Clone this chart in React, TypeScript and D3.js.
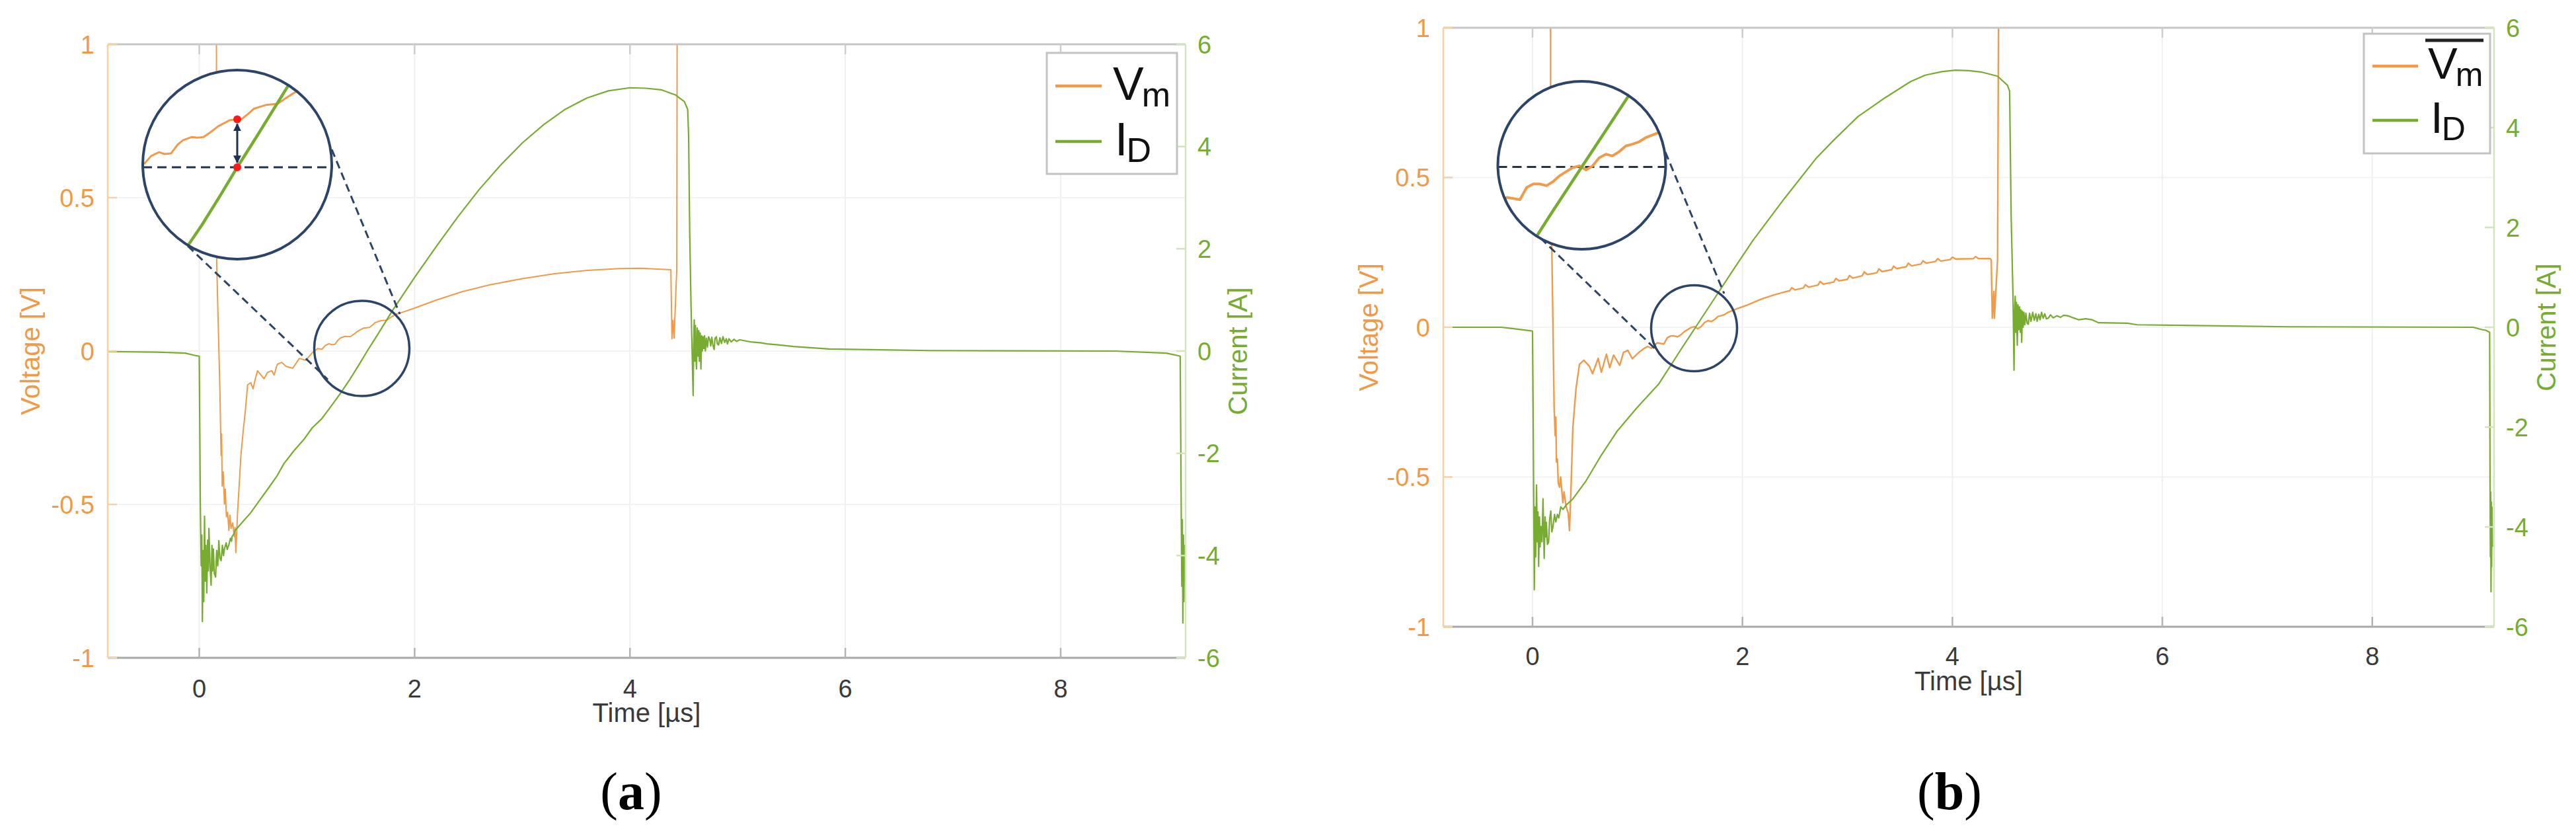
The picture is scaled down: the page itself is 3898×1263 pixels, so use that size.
import React from 'react';
import * as d3 from 'd3';

const W = 3898;
const H = 1263;

// ---------- axes / ticks ----------
const TIME_DOMAIN: [number, number] = [-0.85, 9.16];
const VOLT_DOMAIN: [number, number] = [-1, 1];
const CURR_DOMAIN: [number, number] = [-6, 6];
const TIME_TICKS = [0, 2, 4, 6, 8];
const VOLT_TICKS = [-1, -0.5, 0, 0.5, 1];
const CURR_TICKS = [-6, -4, -2, 0, 2, 4, 6];

// ---------- panel (a) data: [time µs, value] ----------
const vmA: [number, number][] = [
  [-0.85, 1.5], [0.158, 1.5], [0.162, 0.29], [0.172, 0.148], [0.192, -0.129], [0.203, -0.34],
  [0.208, -0.27], [0.213, -0.44], [0.223, -0.394], [0.234, -0.499], [0.242, -0.45], [0.252, -0.54],
  [0.264, -0.526], [0.275, -0.585], [0.285, -0.535], [0.295, -0.578], [0.31, -0.56], [0.326, -0.605],
  [0.332, -0.575], [0.34, -0.657], [0.356, -0.526], [0.387, -0.34], [0.408, -0.261], [0.428, -0.196],
  [0.449, -0.11], [0.479, -0.103], [0.5, -0.123], [0.521, -0.09], [0.541, -0.064], [0.572, -0.078],
  [0.602, -0.09], [0.633, -0.07], [0.674, -0.064], [0.695, -0.078], [0.725, -0.043], [0.766, -0.037],
  [0.807, -0.05], [0.868, -0.056], [0.93, -0.024], [0.991, -0.03], [1.053, -0.004], [1.1, 0.008],
  [1.14, 0.006], [1.17, 0.018], [1.206, 0.024], [1.23, 0.021], [1.26, 0.022], [1.29, 0.036],
  [1.314, 0.043], [1.353, 0.048], [1.38, 0.047], [1.407, 0.048], [1.44, 0.056], [1.473, 0.065],
  [1.527, 0.075], [1.581, 0.077], [1.61, 0.085], [1.635, 0.093], [1.689, 0.099], [1.743, 0.101],
  [1.78, 0.11], [1.821, 0.119], [1.9, 0.128], [2.0, 0.14], [2.2, 0.166], [2.446, 0.194],
  [2.7, 0.216], [3.0, 0.236], [3.3, 0.252], [3.6, 0.263], [3.9, 0.269], [4.1, 0.27],
  [4.38, 0.265], [4.39, 0.04], [4.4, 0.1], [4.41, 0.042], [4.435, 0.27], [4.44, 1.5], [9.2, 1.5],
];

const idA: [number, number][] = [
  [-0.85, -0.01], [-0.4, -0.02], [-0.13, -0.04], [-0.03, -0.09], [0.0, -0.1], [0.004, -1.2],
  [0.01, -3.0], [0.018, -4.2], [0.024, -3.6], [0.029, -5.29], [0.036, -3.9], [0.042, -4.9],
  [0.049, -3.23], [0.056, -4.5], [0.062, -3.8], [0.07, -4.73], [0.078, -3.7], [0.084, -4.3],
  [0.09, -3.47], [0.1, -4.2], [0.11, -4.58], [0.118, -3.8], [0.124, -4.3], [0.131, -3.87],
  [0.14, -4.35], [0.152, -4.42], [0.162, -3.9], [0.172, -4.2], [0.182, -3.71], [0.192, -4.05],
  [0.203, -4.1], [0.215, -3.8], [0.225, -4.0], [0.234, -3.87], [0.25, -3.75], [0.26, -3.88],
  [0.275, -3.79], [0.29, -3.66], [0.3, -3.72], [0.305, -3.63], [0.32, -3.58], [0.336, -3.5],
  [0.4, -3.35], [0.479, -3.16], [0.56, -2.92], [0.643, -2.68], [0.72, -2.45], [0.787, -2.2],
  [0.88, -1.95], [0.971, -1.73], [1.05, -1.5], [1.135, -1.33], [1.217, -1.1], [1.3, -0.86],
  [1.4, -0.55], [1.48, -0.28], [1.56, 0], [1.65, 0.3], [1.8, 0.81], [2.0, 1.44],
  [2.2, 2.04], [2.4, 2.62], [2.6, 3.16], [2.8, 3.64], [3.0, 4.07], [3.2, 4.43],
  [3.4, 4.73], [3.6, 4.95], [3.8, 5.09], [4.0, 5.15], [4.15, 5.14], [4.29, 5.11],
  [4.423, 5.01], [4.505, 4.88], [4.536, 4.73], [4.545, 4.2], [4.555, 2.31], [4.567, 0.92],
  [4.587, -0.87], [4.592, 0.2], [4.597, 0.61], [4.603, -0.2], [4.608, 0.5], [4.613, -0.1],
  [4.618, -0.35], [4.625, 0.45], [4.632, -0.1], [4.639, 0.4], [4.645, -0.2], [4.652, 0.35],
  [4.659, -0.35], [4.666, 0.3], [4.672, 0.0], [4.679, 0.28], [4.686, 0.05], [4.693, 0.3],
  [4.7, 0.0], [4.71, 0.25], [4.72, 0.08], [4.73, 0.28], [4.741, 0.23], [4.75, 0.1],
  [4.76, 0.27], [4.77, 0.12], [4.782, 0.03], [4.79, 0.25], [4.802, 0.28], [4.812, 0.14],
  [4.823, 0.12], [4.835, 0.26], [4.85, 0.15], [4.864, 0.28], [4.88, 0.17], [4.895, 0.24],
  [4.905, 0.14], [4.92, 0.24], [4.94, 0.18], [4.966, 0.23], [4.99, 0.19], [5.02, 0.22],
  [5.069, 0.2], [5.12, 0.18], [5.171, 0.17], [5.22, 0.16], [5.273, 0.14], [5.376, 0.12],
  [5.519, 0.09], [5.85, 0.04], [6.79, 0.01], [8.5, 0.0], [8.98, -0.04], [9.09, -0.09],
  [9.11, -0.1], [9.115, -1.6], [9.12, -3.2], [9.125, -4.6], [9.13, -3.3], [9.135, -5.32],
  [9.14, -3.6], [9.145, -4.9], [9.15, -3.8], [9.16, -4.5],
];

// ---------- panel (b) data ----------
const vmB: [number, number][] = [
  [-0.85, 1.5], [0.171, 1.5], [0.173, 0.4], [0.184, 0.26], [0.195, -0.005], [0.206, -0.27],
  [0.216, -0.362], [0.222, -0.3], [0.228, -0.45], [0.237, -0.44], [0.245, -0.52], [0.258, -0.534],
  [0.268, -0.5], [0.289, -0.586], [0.3, -0.55], [0.321, -0.6], [0.34, -0.62], [0.352, -0.679],
  [0.367, -0.534], [0.384, -0.336], [0.415, -0.203], [0.447, -0.124], [0.489, -0.11], [0.541, -0.13],
  [0.572, -0.155], [0.625, -0.104], [0.656, -0.15], [0.704, -0.09], [0.735, -0.135], [0.772, -0.093],
  [0.831, -0.127], [0.866, -0.084], [0.908, -0.077], [0.95, -0.105], [1.013, -0.084], [1.057, -0.072],
  [1.096, -0.064], [1.135, -0.07], [1.187, -0.052], [1.251, -0.056], [1.284, -0.035], [1.316, -0.029],
  [1.348, -0.029], [1.381, -0.032], [1.413, -0.025], [1.445, -0.015], [1.477, -0.008], [1.509, -0.001],
  [1.542, 0.002], [1.574, -0.005], [1.606, 0.002], [1.639, 0.016], [1.671, 0.022], [1.703, 0.019],
  [1.735, 0.026], [1.768, 0.036], [1.8, 0.039], [1.832, 0.043], [1.864, 0.05], [1.907, 0.056],
  [1.95, 0.062], [2.05, 0.075], [2.18, 0.094], [2.3, 0.108], [2.4, 0.118], [2.45, 0.122],
  [2.47, 0.132], [2.5, 0.125], [2.58, 0.131], [2.6, 0.142], [2.63, 0.134], [2.72, 0.141],
  [2.74, 0.153], [2.77, 0.144], [2.87, 0.151], [2.89, 0.163], [2.92, 0.155], [3.0, 0.16],
  [3.02, 0.173], [3.05, 0.164], [3.14, 0.172], [3.16, 0.185], [3.19, 0.176], [3.28, 0.182],
  [3.3, 0.195], [3.33, 0.186], [3.42, 0.192], [3.44, 0.204], [3.47, 0.196], [3.56, 0.202],
  [3.58, 0.214], [3.61, 0.205], [3.7, 0.211], [3.72, 0.222], [3.75, 0.214], [3.84, 0.22],
  [3.86, 0.229], [3.89, 0.221], [3.98, 0.226], [4.0, 0.234], [4.03, 0.228], [4.2, 0.229],
  [4.22, 0.236], [4.25, 0.229], [4.36, 0.229], [4.37, 0.225], [4.38, 0.03], [4.395, 0.12],
  [4.4, 0.03], [4.43, 0.225], [4.445, 1.5], [9.2, 1.5],
];

const idB: [number, number][] = [
  [-0.85, 0.0], [-0.3, 0.0], [-0.015, -0.07], [0.0, -0.08], [0.005, -1.5], [0.01, -3.0],
  [0.017, -5.26], [0.024, -3.6], [0.03, -4.6], [0.038, -3.16], [0.046, -4.3], [0.052, -3.7],
  [0.058, -4.79], [0.066, -3.8], [0.072, -4.4], [0.08, -3.99], [0.09, -4.3], [0.1, -3.44],
  [0.111, -4.63], [0.12, -3.8], [0.126, -4.2], [0.132, -3.91], [0.142, -4.35], [0.153, -4.31],
  [0.163, -3.85], [0.174, -3.68], [0.184, -4.1], [0.195, -3.99], [0.21, -3.75], [0.222, -3.9],
  [0.237, -3.75], [0.25, -3.82], [0.269, -3.6], [0.29, -3.65], [0.321, -3.56], [0.384, -3.44],
  [0.509, -3.08], [0.656, -2.56], [0.803, -2.09], [0.992, -1.62], [1.201, -1.14], [1.3, -0.82],
  [1.4, -0.49], [1.553, 0], [1.7, 0.47], [1.9, 1.11], [2.1, 1.74], [2.4, 2.58],
  [2.7, 3.38], [2.87, 3.75], [3.1, 4.22], [3.36, 4.6], [3.6, 4.92], [3.74, 5.05],
  [3.9, 5.12], [4.03, 5.15], [4.157, 5.14], [4.283, 5.11], [4.43, 5.03], [4.524, 4.85],
  [4.545, 4.73], [4.552, 3.5], [4.56, 2.19], [4.577, 0.65], [4.587, -0.86], [4.592, 0.3],
  [4.598, 0.62], [4.604, -0.1], [4.61, 0.5], [4.618, -0.36], [4.625, 0.45], [4.632, -0.05],
  [4.64, 0.41], [4.647, -0.1], [4.653, 0.35], [4.66, -0.3], [4.667, 0.32], [4.674, 0.0],
  [4.681, 0.3], [4.69, 0.05], [4.7, 0.28], [4.712, 0.08], [4.723, 0.06], [4.735, 0.28],
  [4.748, 0.12], [4.765, 0.3], [4.78, 0.14], [4.795, 0.27], [4.807, 0.12], [4.822, 0.26],
  [4.835, 0.15], [4.849, 0.3], [4.865, 0.18], [4.88, 0.27], [4.895, 0.17], [4.912, 0.18],
  [4.935, 0.25], [4.96, 0.19], [4.996, 0.23], [5.03, 0.2], [5.06, 0.24], [5.1, 0.23],
  [5.15, 0.19], [5.205, 0.15], [5.27, 0.17], [5.331, 0.15], [5.394, 0.09], [5.667, 0.08],
  [5.76, 0.05], [7.2, 0.01], [8.96, 0.0], [9.05, -0.05], [9.08, -0.06], [9.118, -0.1],
  [9.12, -1.5], [9.122, -3.2], [9.125, -4.6], [9.128, -3.3], [9.131, -5.3], [9.134, -3.5],
  [9.137, -4.8], [9.14, -3.6], [9.145, -4.4],
];

// ---------- colours ----------
const ORANGE = '#EF9B4B';
const ORANGE_TXT = '#EE9A48';
const ORANGE_AXIS = '#F7D0A8';
const GREEN = '#77AC30';
const GREEN_AXIS = '#D3E5BB';
const NAVY = '#2B4467';
const NAVY_DARK = '#1E3352';
const FONT = "'Liberation Sans', Arial, Helvetica, sans-serif";
const SERIF = "'Liberation Serif', 'Times New Roman', serif";

type Pt = [number, number];

interface PanelCfg {
  key: string;
  box: { left: number; right: number; top: number; bottom: number };
  vm: Pt[];
  id: Pt[];
  lineW: { vm: number; id: number };
  inset: {
    cx: number; cy: number; r: number;
    ax: number; ay: number; k: number; tc: number;
    small: { cx: number; cy: number; r: number };
    connectors: [Pt, Pt][];
    markers: boolean;
    vmW: number; idW: number;
  };
  legend: {
    x: number; y: number; w: number; h: number;
    lx0: number; lx1: number; ly1: number; ly2: number;
    tx1: number; tb1: number; tx2: number; tb2: number;
    fs: number; sub: number; subDy: number; overline: boolean;
  };
  label: { x: number; y: number; letter: string };
  ylabelOff: { left: number; right: number };
  xlabelBase: number;
  xtickBase: number;
}

const PANELS: PanelCfg[] = [
  {
    key: 'a',
    box: { left: 163, right: 1794, top: 67, bottom: 995 },
    vm: vmA,
    id: idA,
    lineW: { vm: 2, id: 2.2 },
    inset: {
      cx: 359, cy: 249, r: 143, ax: 359, ay: 253, k: 2.05, tc: 1.56,
      small: { cx: 547.5, cy: 527, r: 72 },
      connectors: [[[284, 372], [496, 574]], [[502, 226], [605, 475]]],
      markers: true, vmW: 3, idW: 4.5,
    },
    legend: {
      x: 1584, y: 80, w: 197, h: 183, lx0: 1597, lx1: 1667, ly1: 130, ly2: 214,
      tx1: 1684, tb1: 151, tx2: 1687, tb2: 235, fs: 70, sub: 52, subDy: 10, overline: false,
    },
    label: { x: 955, y: 1224, letter: 'a' },
    ylabelOff: { left: 103, right: 93 },
    xlabelBase: 97,
    xtickBase: 60,
  },
  {
    key: 'b',
    box: { left: 2184, right: 3774, top: 42, bottom: 948 },
    vm: vmB,
    id: idB,
    lineW: { vm: 2.4, id: 2.2 },
    inset: {
      cx: 2393.5, cy: 250, r: 127, ax: 2393.5, ay: 252.6, k: 1.95, tc: 1.553,
      small: { cx: 2563.5, cy: 496.5, r: 65 },
      connectors: [[[2331, 360], [2507, 530]], [[2520, 230], [2609, 444]]],
      markers: false, vmW: 4, idW: 4.5,
    },
    legend: {
      x: 3577, y: 51, w: 191, h: 181, lx0: 3590, lx1: 3659, ly1: 100, ly2: 182,
      tx1: 3674, tb1: 119, tx2: 3678, tb2: 201, fs: 67, sub: 50, subDy: 11, overline: true,
    },
    label: { x: 2950, y: 1224, letter: 'b' },
    ylabelOff: { left: 99, right: 93 },
    xlabelBase: 96,
    xtickBase: 58,
  },
];

function interp(data: Pt[], t: number): number {
  const i = d3.bisector((d: Pt) => d[0]).left(data, t);
  if (i <= 0) return data[0][1];
  if (i >= data.length) return data[data.length - 1][1];
  const a = data[i - 1];
  const b = data[i];
  return a[1] + ((b[1] - a[1]) * (t - a[0])) / (b[0] - a[0]);
}

function Panel({ cfg }: { cfg: PanelCfg }) {
  const { left, right, top, bottom } = cfg.box;
  const x = d3.scaleLinear().domain(TIME_DOMAIN).range([left, right]);
  const yV = d3.scaleLinear().domain(VOLT_DOMAIN).range([bottom, top]);
  const yA = d3.scaleLinear().domain(CURR_DOMAIN).range([bottom, top]);

  const lineV = d3.line<Pt>().x((d) => x(d[0])).y((d) => yV(d[1]));
  const lineA = d3.line<Pt>().x((d) => x(d[0])).y((d) => yA(d[1]));

  // inset (magnified) scales
  const ins = cfg.inset;
  const x0 = x(ins.tc);
  const y0 = yV(0);
  const xi = d3.scaleLinear().domain(TIME_DOMAIN).range([ins.ax + ins.k * (left - x0), ins.ax + ins.k * (right - x0)]);
  const yVi = d3.scaleLinear().domain(VOLT_DOMAIN).range([ins.ay + ins.k * (bottom - y0), ins.ay + ins.k * (top - y0)]);
  const yAi = d3.scaleLinear().domain(CURR_DOMAIN).range([ins.ay + ins.k * (bottom - y0), ins.ay + ins.k * (top - y0)]);
  const lineVi = d3.line<Pt>().x((d) => xi(d[0])).y((d) => yVi(d[1]));
  const lineAi = d3.line<Pt>().x((d) => xi(d[0])).y((d) => yAi(d[1]));

  const clipId = `plotclip-${cfg.key}`;
  const insClipId = `insclip-${cfg.key}`;
  const arrowId = `arrow-${cfg.key}`;

  const vAtTc = interp(cfg.vm, ins.tc);
  const dotTopY = yVi(vAtTc);
  const dotBotY = yAi(0);
  const cyMid = (top + bottom) / 2;
  const lg = cfg.legend;

  return (
    <g>
      <defs>
        <clipPath id={clipId}>
          <rect x={left} y={top} width={right - left} height={bottom - top} />
        </clipPath>
        <clipPath id={insClipId}>
          <circle cx={ins.cx} cy={ins.cy} r={ins.r} />
        </clipPath>
        <marker id={arrowId} viewBox="0 0 10 10" refX="9" refY="5" markerWidth="4" markerHeight="4" orient="auto-start-reverse">
          <path d="M0,0 L10,5 L0,10 z" fill={NAVY_DARK} />
        </marker>
      </defs>

      {/* grid */}
      {TIME_TICKS.map((t) => (
        <line key={`gx${t}`} x1={x(t)} x2={x(t)} y1={top} y2={bottom} stroke="#F0F0F0" strokeWidth={2} />
      ))}
      {VOLT_TICKS.filter((v) => v > -1 && v < 1).map((v) => (
        <line key={`gy${v}`} x1={left} x2={right} y1={yV(v)} y2={yV(v)} stroke="#F2F2F2" strokeWidth={2} />
      ))}

      {/* data */}
      <g clipPath={`url(#${clipId})`}>
        <path d={lineV(cfg.vm) || ''} fill="none" stroke={ORANGE} strokeWidth={cfg.lineW.vm} strokeLinejoin="round" />
        <path d={lineA(cfg.id) || ''} fill="none" stroke={GREEN} strokeWidth={cfg.lineW.id} strokeLinejoin="round" />
      </g>

      {/* axes box */}
      <line x1={left} x2={right} y1={top} y2={top} stroke="#C6C6C6" strokeWidth={3} />
      <line x1={left} x2={right} y1={bottom} y2={bottom} stroke="#A8A8A8" strokeWidth={3} />
      <line x1={left} x2={left} y1={top} y2={bottom} stroke={ORANGE_AXIS} strokeWidth={2.5} />
      <line x1={right} x2={right} y1={top} y2={bottom} stroke={GREEN_AXIS} strokeWidth={2.5} />

      {/* x ticks */}
      {TIME_TICKS.map((t) => (
        <g key={`xt${t}`}>
          <line x1={x(t)} x2={x(t)} y1={bottom} y2={bottom - 15} stroke="#B4B4B4" strokeWidth={2.5} />
          <line x1={x(t)} x2={x(t)} y1={top} y2={top + 15} stroke="#CDCDCD" strokeWidth={2.5} />
          <text x={x(t)} y={bottom + cfg.xtickBase} fontSize={38} fontFamily={FONT} fill="#3A3A3A" textAnchor="middle">
            {String(t)}
          </text>
        </g>
      ))}
      {/* left (voltage) ticks */}
      {VOLT_TICKS.map((v) => (
        <g key={`vt${v}`}>
          <line x1={left} x2={left + 14} y1={yV(v)} y2={yV(v)} stroke={ORANGE_AXIS} strokeWidth={2.5} />
          <text x={left - 20} y={yV(v)} dy="0.36em" fontSize={38} fontFamily={FONT} fill={ORANGE_TXT} textAnchor="end">
            {String(v)}
          </text>
        </g>
      ))}
      {/* right (current) ticks */}
      {CURR_TICKS.map((a) => (
        <g key={`at${a}`}>
          <line x1={right - 14} x2={right} y1={yA(a)} y2={yA(a)} stroke={GREEN_AXIS} strokeWidth={2.5} />
          <text x={right + 18} y={yA(a)} dy="0.36em" fontSize={38} fontFamily={FONT} fill={GREEN} textAnchor="start">
            {String(a)}
          </text>
        </g>
      ))}

      {/* axis titles */}
      <text x={(left + right) / 2} y={bottom + cfg.xlabelBase} fontSize={40} fontFamily={FONT} fill="#3A3A3A" textAnchor="middle">
        Time [µs]
      </text>
      <text transform={`translate(${left - cfg.ylabelOff.left},${cyMid}) rotate(-90)`} fontSize={40} fontFamily={FONT} fill={ORANGE_TXT} textAnchor="middle">
        Voltage [V]
      </text>
      <text transform={`translate(${right + cfg.ylabelOff.right},${cyMid}) rotate(-90)`} fontSize={40} fontFamily={FONT} fill={GREEN} textAnchor="middle">
        Current [A]
      </text>

      {/* magnifier */}
      {ins.connectors.map((c, i) => (
        <line key={`con${i}`} x1={c[0][0]} y1={c[0][1]} x2={c[1][0]} y2={c[1][1]} stroke={NAVY} strokeWidth={3} strokeDasharray="12 7" />
      ))}
      <circle cx={ins.small.cx} cy={ins.small.cy} r={ins.small.r} fill="none" stroke={NAVY} strokeWidth={3.5} />
      <circle cx={ins.cx} cy={ins.cy} r={ins.r} fill="#FFFFFF" stroke="none" />
      <g clipPath={`url(#${insClipId})`}>
        <line x1={ins.cx - ins.r} x2={ins.cx + ins.r} y1={ins.ay} y2={ins.ay} stroke={NAVY_DARK} strokeWidth={3} strokeDasharray="14 8" />
        <path d={lineVi(cfg.vm) || ''} fill="none" stroke={ORANGE} strokeWidth={ins.vmW} strokeLinejoin="round" />
        <path d={lineAi(cfg.id) || ''} fill="none" stroke={GREEN} strokeWidth={ins.idW} strokeLinejoin="round" />
        {ins.markers && (
          <g>
            <line x1={xi(ins.tc)} x2={xi(ins.tc)} y1={dotTopY + 7} y2={dotBotY - 7} stroke={NAVY_DARK} strokeWidth={3}
              markerStart={`url(#${arrowId})`} markerEnd={`url(#${arrowId})`} />
            <circle cx={xi(ins.tc)} cy={dotTopY} r={6} fill="#FF1A1A" />
            <circle cx={xi(ins.tc)} cy={dotBotY} r={6} fill="#FF1A1A" />
          </g>
        )}
      </g>
      <circle cx={ins.cx} cy={ins.cy} r={ins.r} fill="none" stroke={NAVY} strokeWidth={4} />

      {/* legend */}
      <rect x={lg.x} y={lg.y} width={lg.w} height={lg.h} fill="#FFFFFF" stroke="#C2C2C2" strokeWidth={3} />
      <line x1={lg.lx0} x2={lg.lx1} y1={lg.ly1} y2={lg.ly1} stroke={ORANGE} strokeWidth={4.5} />
      <line x1={lg.lx0} x2={lg.lx1} y1={lg.ly2} y2={lg.ly2} stroke={GREEN} strokeWidth={4.5} />
      <text x={lg.tx1} y={lg.tb1} fontSize={lg.fs} fontFamily={FONT} fill="#111">
        V<tspan fontSize={lg.sub} dy={lg.subDy} dx={-3}>m</tspan>
      </text>
      {lg.overline && (
        <line x1={lg.tx1 - 4} x2={lg.tx1 + 84} y1={lg.tb1 - 58} y2={lg.tb1 - 58} stroke="#222" strokeWidth={5} />
      )}
      <text x={lg.tx2} y={lg.tb2} fontSize={lg.fs} fontFamily={FONT} fill="#111">
        I<tspan fontSize={lg.sub} dy={lg.subDy} dx={-2}>D</tspan>
      </text>

      {/* panel label */}
      <text x={cfg.label.x} y={cfg.label.y} fontSize={80} fontFamily={SERIF} fill="#000" textAnchor="middle">
        (<tspan fontWeight="bold">{cfg.label.letter}</tspan>)
      </text>
    </g>
  );
}

export default function App() {
  return (
    <svg
      width={W}
      height={H}
      viewBox={`0 0 ${W} ${H}`}
      style={{ position: 'absolute', left: 0, top: 0, background: '#FFFFFF' }}
      xmlns="http://www.w3.org/2000/svg"
    >
      <rect x={0} y={0} width={W} height={H} fill="#FFFFFF" />
      {PANELS.map((p) => (
        <Panel key={p.key} cfg={p} />
      ))}
    </svg>
  );
}
